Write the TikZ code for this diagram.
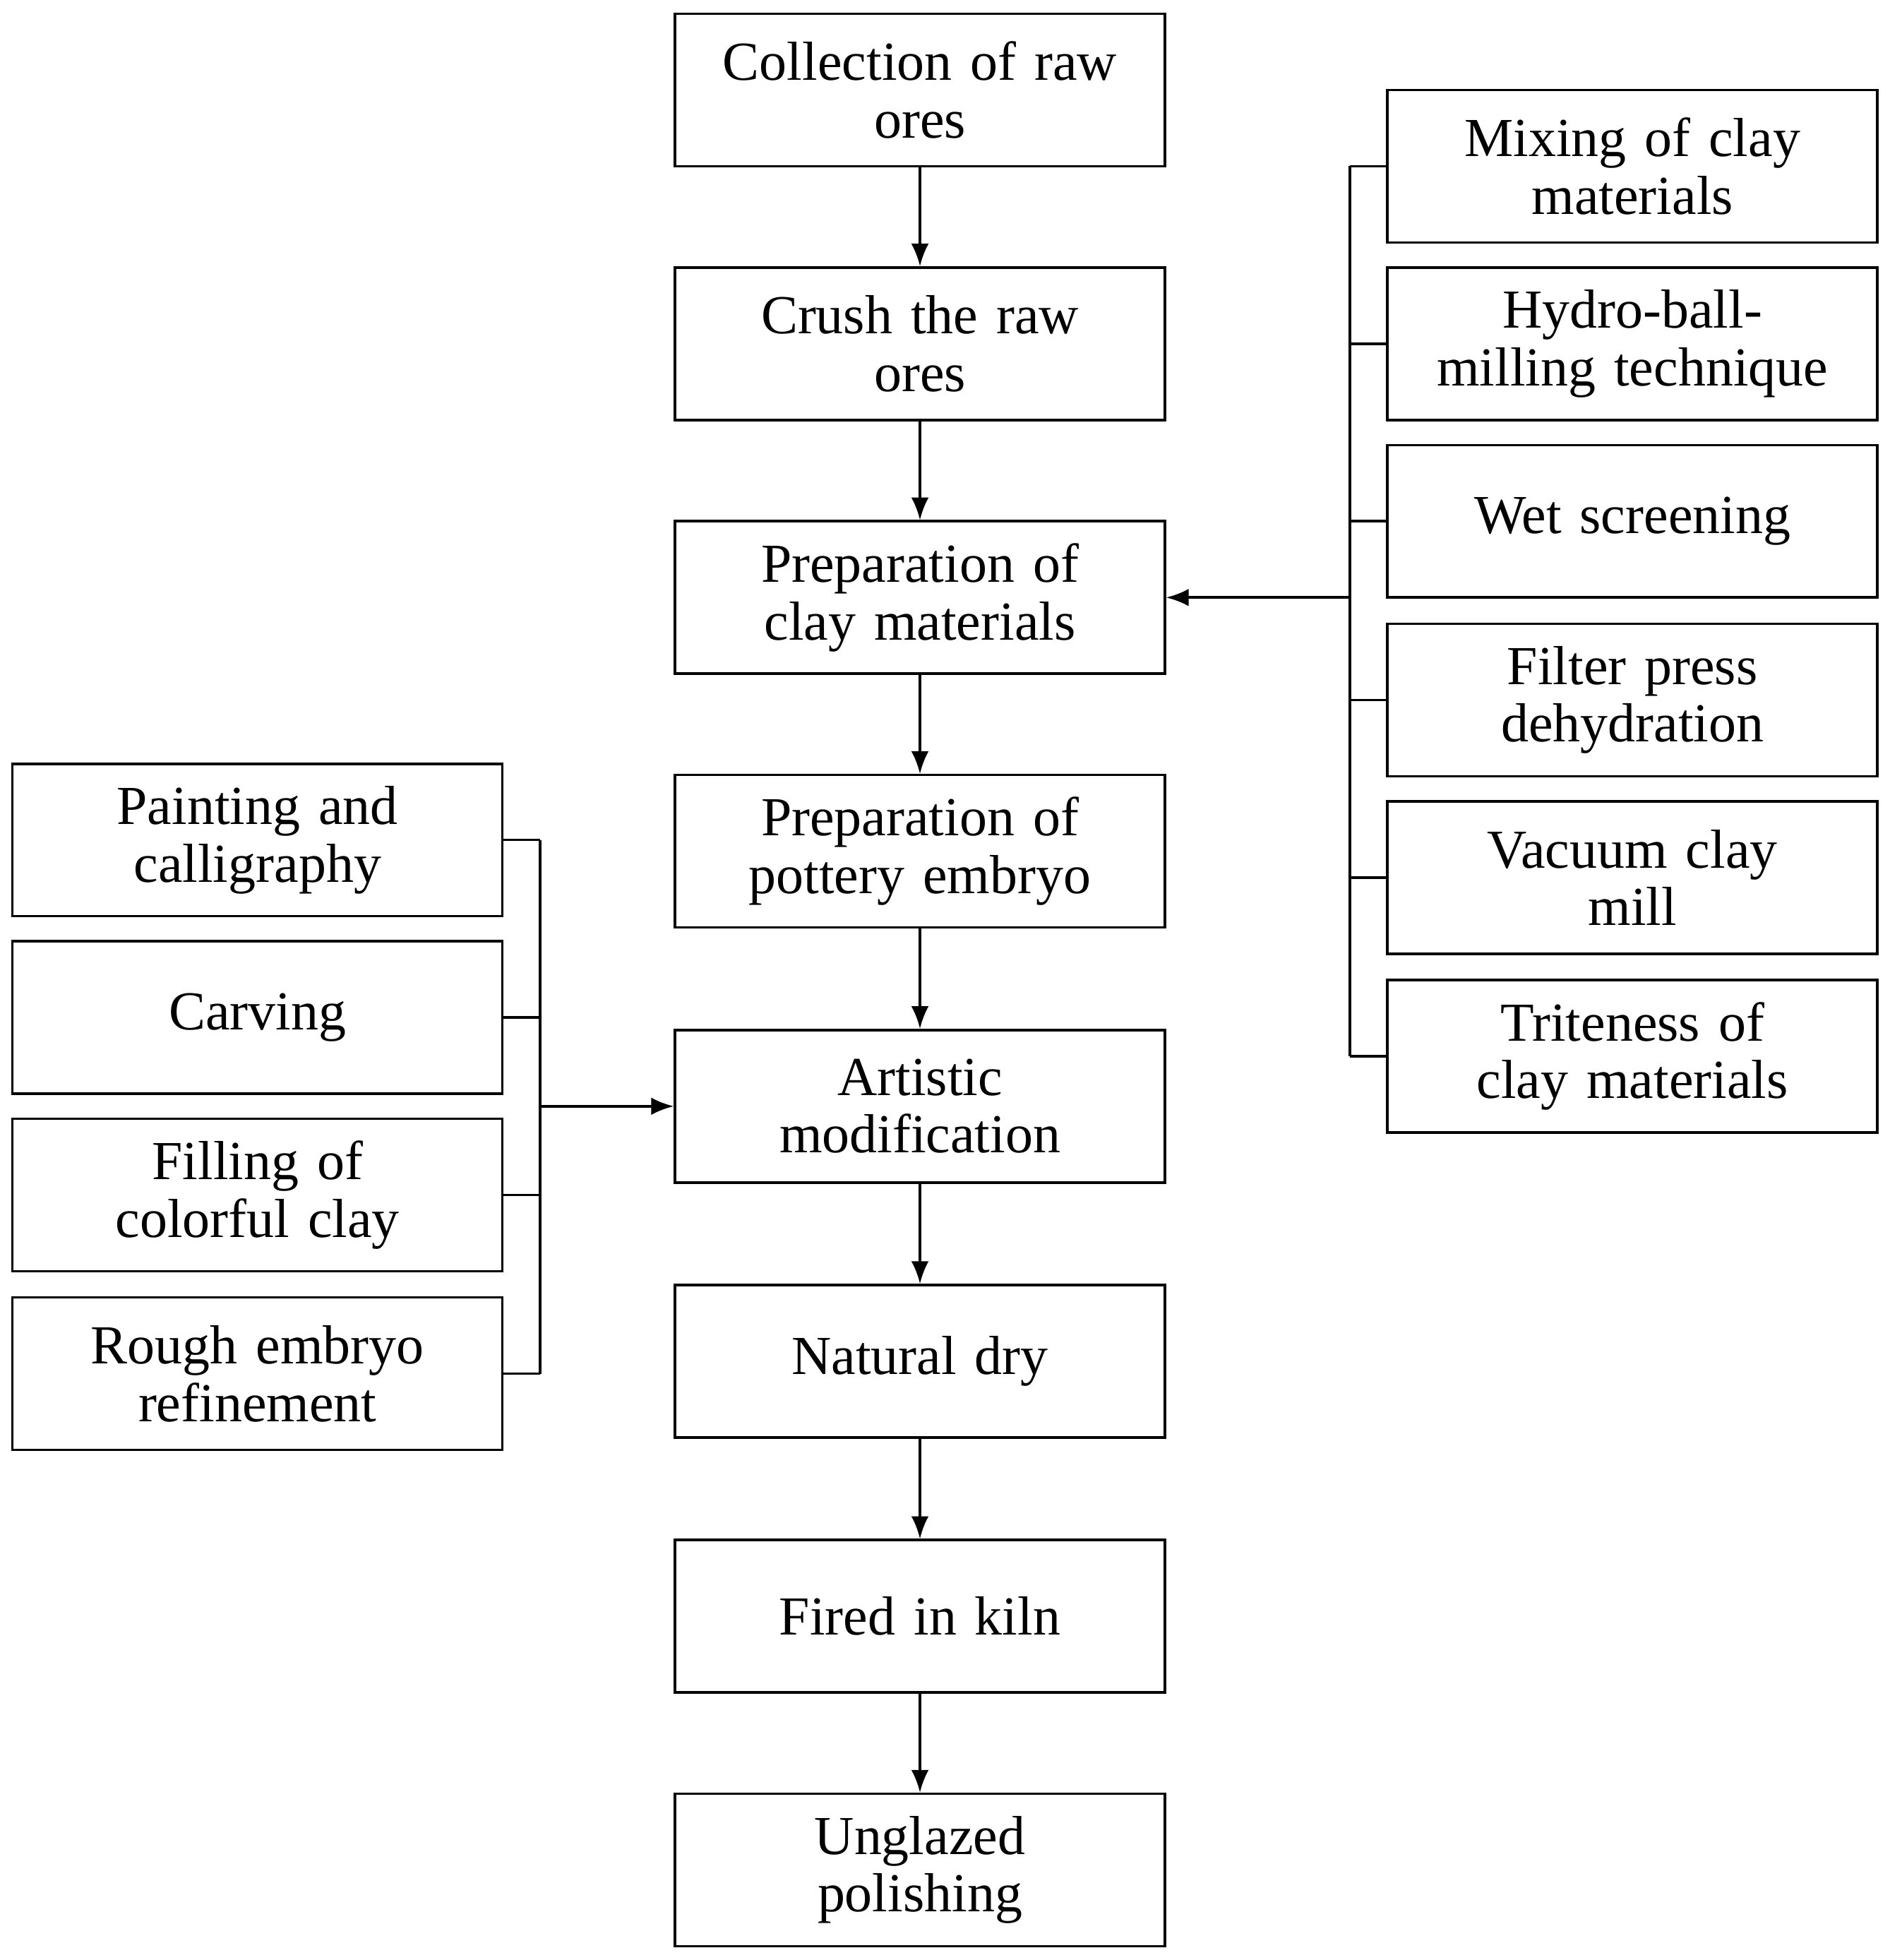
\documentclass[tikz,border=0pt]{standalone}
\usepackage{fontspec}
\setmainfont{Liberation Serif}
\usetikzlibrary{arrows.meta}
\begin{document}
\begin{tikzpicture}[x=0.5pt,y=-0.5pt,
  box/.style={draw,line width=1pt,minimum width=196pt,minimum height=61pt,inner sep=2pt,align=center,text width=190pt,font=\fontsize{22}{23}\selectfont},
  line/.style={line width=1pt},
  arr/.style={line width=1pt,-{Latex[length=9pt,width=7pt]}}]
\useasboundingbox (0,0) rectangle (1512,1568);
\node[box] (c1) at (736,72) {Collection of raw\\ores};
\node[box] (c2) at (736,275) {Crush the raw\\ores};
\node[box] (c3) at (736,478) {Preparation of\\clay materials};
\node[box] (c4) at (736,681) {Preparation of\\pottery embryo};
\node[box] (c5) at (736,885) {Artistic\\modification};
\node[box] (c6) at (736,1089) {Natural dry};
\node[box] (c7) at (736,1293) {Fired in kiln};
\node[box] (c8) at (736,1496) {Unglazed\\polishing};
\foreach \a/\b in {c1/c2,c2/c3,c3/c4,c4/c5,c5/c6,c6/c7,c7/c8} \draw[arr] (\a) -- (\b);
\node[box] (r1) at (1306,133) {Mixing of clay\\materials};
\node[box] (r2) at (1306,275) {Hydro-ball-\\milling technique};
\node[box] (r3) at (1306,417) {Wet screening};
\node[box] (r4) at (1306,560) {Filter press\\dehydration};
\node[box] (r5) at (1306,702) {Vacuum clay\\mill};
\node[box] (r6) at (1306,845) {Triteness of\\clay materials};
\coordinate (rb1) at (1080,133);
\coordinate (rb6) at (1080,845);
\coordinate (rbm) at (1080,478);
\draw[line] (rb1) -- (rb6);
\foreach \n in {r1,r2,r3,r4,r5,r6} \draw[line] (\n.west) -- (1080,0 |- \n.west);
\draw[arr] (rbm) -- (c3.east);
\node[box] (l1) at (206,672) {Painting and\\calligraphy};
\node[box] (l2) at (206,814) {Carving};
\node[box] (l3) at (206,956) {Filling of\\colorful clay};
\node[box] (l4) at (206,1099) {Rough embryo\\refinement};
\coordinate (lb1) at (432,672);
\coordinate (lb4) at (432,1099);
\coordinate (lbm) at (432,885);
\draw[line] (lb1) -- (lb4);
\foreach \n in {l1,l2,l3,l4} \draw[line] (\n.east) -- (432,0 |- \n.east);
\draw[arr] (lbm) -- (c5.west);
\end{tikzpicture}
\end{document}
